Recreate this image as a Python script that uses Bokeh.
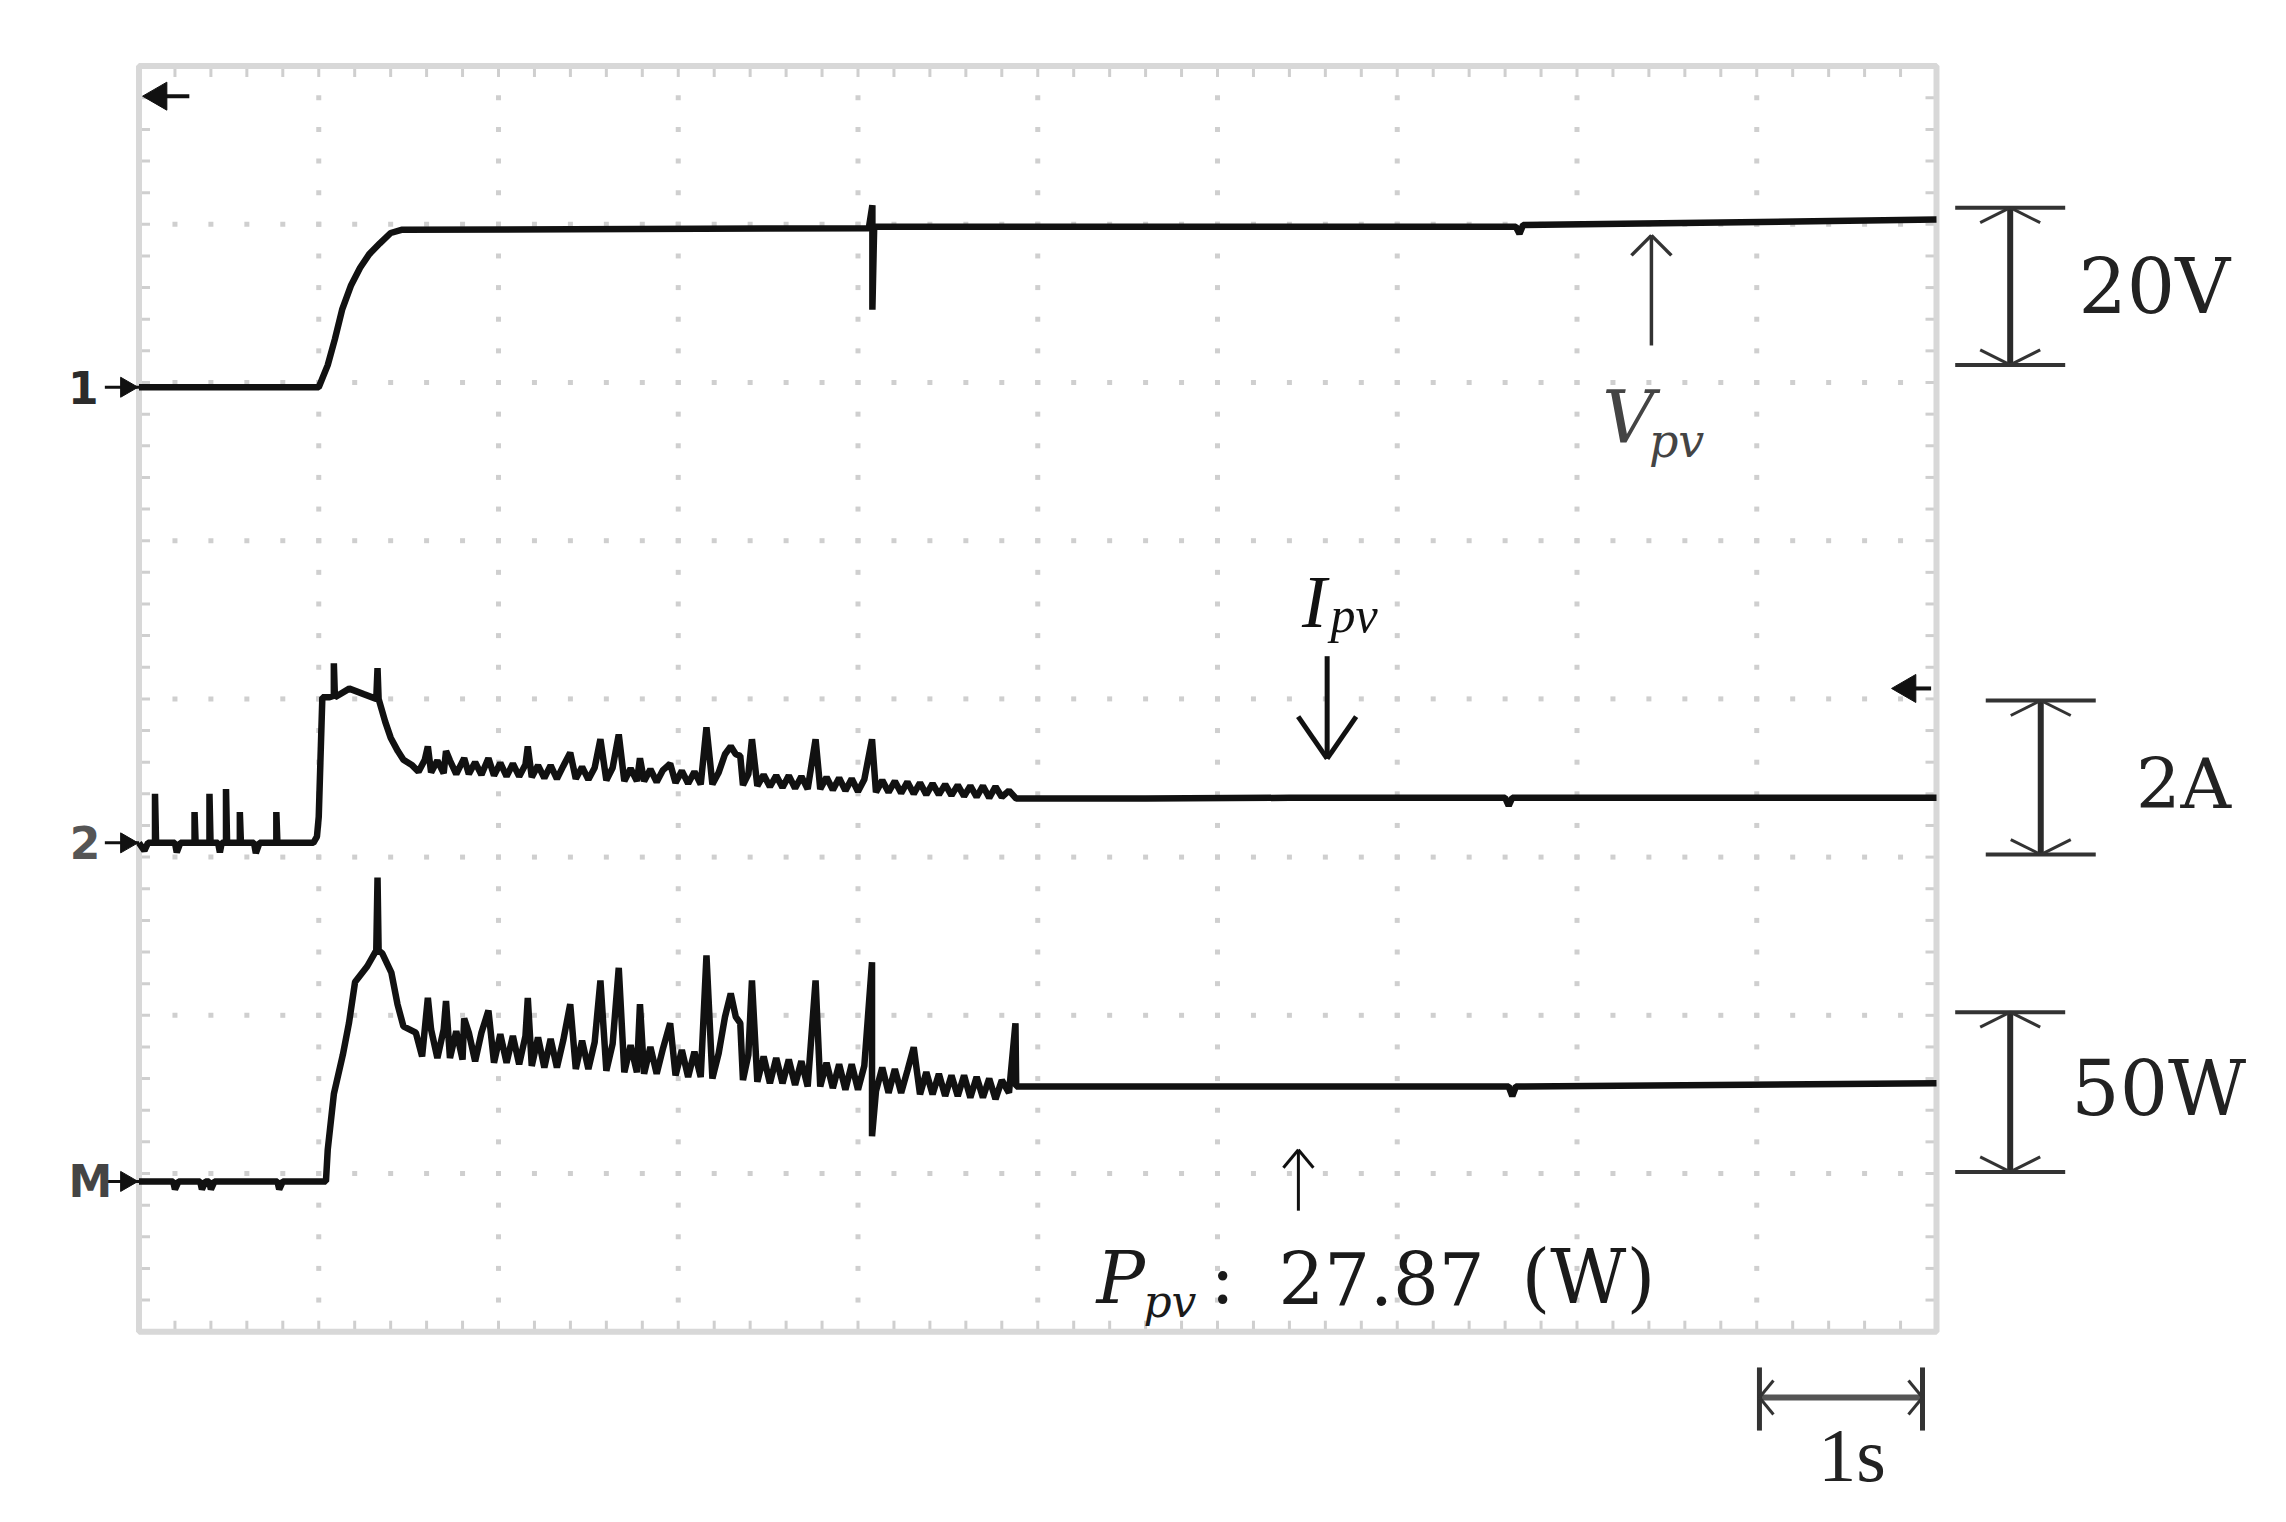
import numpy as np
from bokeh.plotting import figure
from bokeh.models import Range1d, Label
from bokeh.embed import file_html
from bokeh.resources import INLINE

# ---------------- data ----------------
ch_names = ["1", "2", "M"]
ch_units_per_div = [20.0, 2.0, 50.0]      # 20 V/div, 2 A/div, 50 W/div
ch_ground_div = [1.97, -0.91, -3.05]      # ground markers (divisions from centre)
scale_labels = ["20V", "2A", "50W"]
time_per_div_label = "1s"
power_readout = "27.87"
power_unit = "(W)"

# channel 1 : PV voltage (s, V)
v_t = [0, 1.00, 1.05, 1.09, 1.13, 1.18, 1.23, 1.28, 1.34, 1.40, 1.46,
       4.06, 4.08, 4.08, 4.09, 7.66, 7.68, 7.70, 10.0]
v_volt = [0, 0, 2.8, 6.1, 9.8, 12.9, 15.1, 16.8, 18.2, 19.5, 19.9,
          20.1, 23.0, 9.8, 20.3, 20.3, 19.4, 20.5, 21.2]

# channel 2 : PV current (s, A)
i_t = [0, 0.03, 0.05, 0.089, 0.089, 0.095, 0.20, 0.21, 0.23, 0.309, 0.309, 0.315,
       0.392, 0.392, 0.398, 0.44, 0.45, 0.46, 0.484, 0.484, 0.49, 0.561, 0.561, 0.567,
       0.64, 0.65, 0.67, 0.764, 0.764, 0.77, 0.97,
       0.99, 1.00, 1.02, 1.06, 1.084, 1.084, 1.09, 1.17, 1.25, 1.32, 1.327, 1.333,
       1.37, 1.40, 1.44, 1.471,
       1.52, 1.555, 1.59, 1.607, 1.625, 1.66, 1.695, 1.708, 1.73, 1.765, 1.80, 1.809,
       1.835, 1.87, 1.905, 1.944, 1.975, 2.01, 2.045, 2.08, 2.115, 2.15, 2.163, 2.185,
       2.22, 2.255, 2.29, 2.325, 2.36, 2.399, 2.43, 2.465, 2.50, 2.535, 2.567, 2.60,
       2.635, 2.669, 2.70, 2.735, 2.77, 2.787, 2.81, 2.845, 2.88, 2.915, 2.955, 2.985,
       3.02, 3.055, 3.09, 3.125, 3.157, 3.19, 3.225, 3.26, 3.292, 3.32, 3.345, 3.36,
       3.39, 3.41, 3.44, 3.475, 3.51, 3.545, 3.58, 3.615, 3.65, 3.685, 3.72, 3.764,
       3.79, 3.825, 3.86, 3.895, 3.93, 3.965, 4.00, 4.035, 4.078, 4.10, 4.135, 4.17,
       4.205, 4.24, 4.275, 4.31, 4.345, 4.38, 4.415, 4.45, 4.485, 4.52, 4.555, 4.59,
       4.625, 4.66, 4.695, 4.73, 4.765, 4.80, 4.84, 4.88,
       5.6, 6.4, 7.6, 7.62, 7.64, 10.0]
i_amp = [0, -0.10, 0, 0, 0.62, 0, 0, -0.12, 0, 0, 0.39, 0,
         0, 0.62, 0, 0, -0.12, 0, 0, 0.68, 0, 0, 0.39, 0,
         0, -0.13, 0, 0, 0.39, 0, 0,
         0.08, 0.33, 1.84, 1.84, 1.86, 2.27, 1.84, 1.95, 1.88, 1.82, 2.21, 1.82,
         1.53, 1.33, 1.16, 1.05,
         0.98, 0.90, 1.05, 1.22, 0.89, 1.04, 0.88, 1.16, 1.04, 0.87, 1.03, 1.07,
         0.87, 1.02, 0.86, 1.07, 0.85, 1.01, 0.84, 1.00, 0.84, 0.99, 1.22, 0.83,
         0.98, 0.82, 0.98, 0.81, 0.97, 1.14, 0.81, 0.96, 0.80, 0.95, 1.31, 0.79,
         0.95, 1.37, 0.78, 0.94, 0.78, 1.07, 0.78, 0.93, 0.77, 0.92, 1.00, 0.76,
         0.91, 0.75, 0.90, 0.74, 1.46, 0.74, 0.89, 1.12, 1.22, 1.12, 1.10, 0.73,
         0.87, 1.31, 0.72, 0.86, 0.71, 0.85, 0.70, 0.85, 0.69, 0.84, 0.68, 1.31,
         0.68, 0.83, 0.67, 0.82, 0.66, 0.81, 0.65, 0.80, 1.31, 0.64, 0.79, 0.64,
         0.78, 0.63, 0.77, 0.62, 0.76, 0.61, 0.75, 0.61, 0.74, 0.60, 0.73, 0.59,
         0.72, 0.58, 0.72, 0.57, 0.71, 0.58, 0.66, 0.56,
         0.56, 0.57, 0.57, 0.47, 0.57, 0.57]

# math channel M : PV power (s, W)
p_t = [0, 0.19, 0.20, 0.22, 0.34, 0.35, 0.37, 0.39, 0.40, 0.42, 0.77, 0.78, 0.80, 1.0,
       1.04, 1.05, 1.084, 1.134, 1.168, 1.202, 1.27, 1.32, 1.327, 1.333, 1.354, 1.404,
       1.438, 1.471,
       1.54, 1.575, 1.607, 1.625, 1.66, 1.695, 1.708, 1.73, 1.765, 1.80, 1.809, 1.835,
       1.87, 1.905, 1.944, 1.975, 2.01, 2.045, 2.08, 2.115, 2.15, 2.163, 2.185, 2.22,
       2.255, 2.29, 2.325, 2.36, 2.399, 2.43, 2.465, 2.50, 2.535, 2.567, 2.60, 2.635,
       2.669, 2.70, 2.735, 2.77, 2.787, 2.81, 2.845, 2.88, 2.915, 2.955, 2.985, 3.02,
       3.055, 3.09, 3.125, 3.157, 3.19, 3.225, 3.26, 3.292, 3.32, 3.345, 3.36, 3.39,
       3.41, 3.44, 3.475, 3.51, 3.545, 3.58, 3.615, 3.65, 3.685, 3.72, 3.764, 3.79,
       3.825, 3.86, 3.895, 3.93, 3.965, 4.00, 4.035, 4.078, 4.078, 4.10, 4.135, 4.17,
       4.205, 4.24, 4.275, 4.31, 4.345, 4.38, 4.415, 4.45, 4.485, 4.52, 4.555, 4.59,
       4.625, 4.66, 4.695, 4.73, 4.765, 4.80, 4.84, 4.876, 4.88,
       5.8, 7.62, 7.64, 7.66, 10.0]
p_watt = [0, 0, -2.5, 0, 0, -2.5, 0, 0, -2.5, 0, 0, -2.5, 0, 0,
          0, 10, 27.6, 40, 50, 63, 68, 73, 96, 73, 72, 66,
          56, 49,
          47, 39.5, 58, 48, 39, 48, 57, 39, 47.5, 38.5, 51.5, 47,
          38, 47, 54, 37.5, 46.5, 37.5, 46, 37, 46, 58, 36.5, 45.5,
          36, 45, 36, 44.5, 56, 35.5, 44.5, 35.5, 44, 63.5, 35, 43.5,
          67.5, 34.5, 43, 34.5, 56, 34, 42.5, 34, 42, 50, 33.5, 41.5,
          33, 41, 33, 71.4, 32.5, 40.5, 52, 59.4, 52, 50, 32, 40,
          63.5, 31.5, 39.5, 31, 39, 31, 38.5, 30.5, 38, 30, 63.5, 30,
          37.5, 29.5, 37, 29, 37, 29, 36.5, 69.3, 14.3, 28.5, 36, 28,
          35.5, 28, 35, 42.4, 27.5, 34.5, 27.5, 34, 27, 33.5, 27, 33.5,
          26.5, 33, 26.5, 32.5, 26, 32, 28, 50, 30,
          30, 30, 27, 30, 31]

# ---------------- page geometry ----------------
W, H = 2276, 1512
SX = 179.75                      # px per second (1 s/div)
SY = 158.2                       # px per division
X0 = -138.5 / SX                 # graticule spans 0..10 s
X1 = X0 + W / SX
Y1 = 4 + 65.6 / SY               # graticule spans -4..4 div
Y0 = Y1 - H / SY

p = figure(width=W, height=H, x_range=Range1d(X0, X1), y_range=Range1d(Y0, Y1),
           output_backend="svg", toolbar_location=None,
           x_axis_location=None, y_axis_location=None, min_border=0)
p.outline_line_color = None
p.xgrid.visible = False
p.ygrid.visible = False
p.background_fill_color = "white"

GRID = "#cfcfcf"
# graticule: dotted division lines
minor_x = np.arange(1, 50) * 0.2
minor_y = -4 + np.arange(1, 40) * 0.2
gx, gy = [], []
for xv in range(1, 10):
    gx += [xv] * len(minor_y)
    gy += list(minor_y)
for yv in range(-3, 4):
    gx += list(minor_x)
    gy += [yv] * len(minor_x)
p.scatter(gx, gy, marker="square", size=5, fill_color=GRID, line_color=None)

# border ticks
tl = 11.0
bx0, by0, bx1, by1 = [], [], [], []
for xv in minor_x:
    bx0 += [xv, xv]; bx1 += [xv, xv]
    by0 += [4, -4]; by1 += [4 - tl / SY, -4 + tl / SY]
for yv in minor_y:
    bx0 += [0, 10]; bx1 += [tl / SX, 10 - tl / SX]
    by0 += [yv, yv]; by1 += [yv, yv]
p.segment(bx0, by0, bx1, by1, line_color=GRID, line_width=3)
p.quad(left=[0], right=[10], bottom=[-4], top=[4], fill_color=None,
       line_color="#d8d8d8", line_width=6)

# ---------------- traces ----------------
TRACE = "#111111"
for t, vals, k in [(v_t, v_volt, 0), (i_t, i_amp, 1), (p_t, p_watt, 2)]:
    y = ch_ground_div[k] + np.array(vals, dtype=float) / ch_units_per_div[k]
    p.line(t, y, line_color=TRACE, line_width=6.5)

# ---------------- helpers for drawn symbols ----------------
def chevron(tx, ty, d, w, h):
    if d == "up":
        return [(tx - w / 2 / SX, ty - h / SY, tx, ty), (tx + w / 2 / SX, ty - h / SY, tx, ty)]
    if d == "down":
        return [(tx - w / 2 / SX, ty + h / SY, tx, ty), (tx + w / 2 / SX, ty + h / SY, tx, ty)]
    if d == "left":
        return [(tx + h / SX, ty + w / 2 / SY, tx, ty), (tx + h / SX, ty - w / 2 / SY, tx, ty)]
    return [(tx - h / SX, ty + w / 2 / SY, tx, ty), (tx - h / SX, ty - w / 2 / SY, tx, ty)]

def draw_segs(segs, color, width):
    p.segment([s[0] for s in segs], [s[1] for s in segs], [s[2] for s in segs],
              [s[3] for s in segs], line_color=color, line_width=width)

BASE = 0.38  # alphabetic-baseline correction (fraction of font size)

def text(x, y_base, s, font, size, color, style="normal", align="left"):
    p.add_layout(Label(x=x, y=y_base + BASE * size / SY, text=s, text_font=font,
                       text_font_style=style, text_font_size=f"{size}px",
                       text_color=color, text_align=align, text_baseline="alphabetic"))

# ---------------- channel markers on the left ----------------
lab_x = [-0.31, -0.30, -0.27]
lab_col = ["#2b2b2b", "#555555", "#444444"]
for k in range(3):
    p.add_layout(Label(x=lab_x[k], y=ch_ground_div[k], text=ch_names[k],
                       text_font="DejaVu Sans", text_font_style="bold",
                       text_font_size="44px", text_color=lab_col[k],
                       text_align="center", text_baseline="middle"))
mk_y = ch_ground_div
p.segment([-0.19] * 3, mk_y, [0.0] * 3, mk_y, line_color="#111111", line_width=3)
p.scatter([-0.07] * 3, mk_y, marker="triangle", angle=-np.pi / 2, size=20,
          fill_color="#111111", line_color="#111111")

# trigger position (top-left) and trigger level (right) markers
p.segment([0.05, 9.80], [3.81, 0.066], [0.28, 9.97], [3.81, 0.066],
          line_color="#111111", line_width=4)
p.scatter([0.11, 9.84], [3.81, 0.066], marker="triangle", angle=np.pi / 2, size=28,
          fill_color="#111111", line_color="#111111")

# ---------------- scale bars on the right ----------------
bar_x = [10.41, 10.58, 10.41]
bar_top = [3.105, -0.01, -1.98]
bar_bot = [2.111, -0.984, -2.99]
lab_pos = [(10.79, 2.607, "76px"), (11.11, -0.535, "70px"), (10.75, -2.462, "76px")]
for k in range(3):
    xc, yt, yb = bar_x[k], bar_top[k], bar_bot[k]
    hw = 55 / SX
    draw_segs([(xc, yb, xc, yt)], "#2a2a2a", 6)
    draw_segs([(xc - hw, yt, xc + hw, yt), (xc - hw, yb, xc + hw, yb)], "#333333", 4)
    draw_segs(chevron(xc, yt, "up", 60, 15) + chevron(xc, yb, "down", 60, 15), "#333333", 3)
    lx, ly, fs = lab_pos[k]
    p.add_layout(Label(x=lx, y=ly, text=scale_labels[k], text_font="DejaVu Serif",
                       text_font_size=fs, text_color="#222222",
                       text_align="left", text_baseline="middle"))

# ---------------- time scale bar ----------------
tb_x0, tb_x1, tb_y = 9.015, 9.922, -4.416
draw_segs([(tb_x0, tb_y, tb_x1, tb_y)], "#555555", 6)
draw_segs([(tb_x0, -4.226, tb_x0, -4.625), (tb_x1, -4.226, tb_x1, -4.625)], "#333333", 5)
draw_segs(chevron(tb_x0, tb_y, "left", 34, 14) + chevron(tb_x1, tb_y, "right", 34, 14),
          "#333333", 3)
text(9.53, -4.96, time_per_div_label, "Liberation Serif", 76, "#222222", align="center")

# ---------------- annotations ----------------
# V_pv
draw_segs([(8.414, 2.234, 8.414, 2.93)], "#333333", 3.5)
draw_segs(chevron(8.414, 2.93, "up", 40, 20), "#333333", 3.5)
text(8.14, 1.602, "V", "DejaVu Serif", 72, "#444444", style="italic")
text(8.40, 1.52, "pv", "DejaVu Serif", 46, "#444444", style="italic")

# I_pv
draw_segs([(6.61, 0.27, 6.61, -0.378)], "#111111", 5)
draw_segs(chevron(6.61, -0.378, "down", 58, 42), "#111111", 5)
text(6.47, 0.432, "I", "Liberation Serif", 74, "#111111", style="italic")
text(6.628, 0.413, "pv", "Liberation Serif", 50, "#111111", style="italic")

# P_pv readout
draw_segs([(6.45, -3.235, 6.45, -2.85)], "#111111", 3)
draw_segs(chevron(6.45, -2.85, "up", 30, 18), "#111111", 3)
text(5.327, -3.835, "P", "DejaVu Serif", 72, "#1a1a1a", style="italic")
text(5.588, -3.915, "pv", "DejaVu Serif", 44, "#1a1a1a", style="italic")
text(5.961, -3.835, ":", "DejaVu Serif", 72, "#1a1a1a")
text(6.339, -3.835, power_readout, "DejaVu Serif", 72, "#1a1a1a")
text(7.691, -3.835, power_unit, "DejaVu Serif", 74, "#1a1a1a")

open("out.html", "w").write(file_html(p, INLINE))
